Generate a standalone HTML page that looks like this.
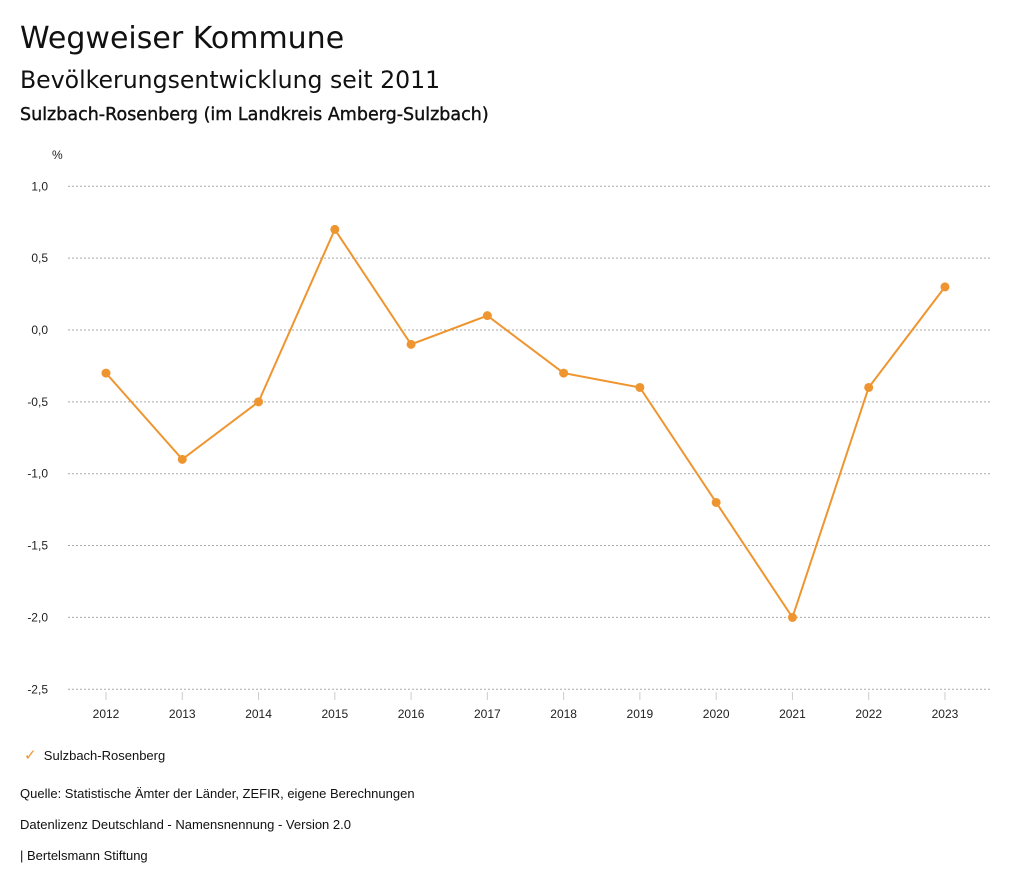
<!DOCTYPE html>
<html><head><meta charset="utf-8"><style>
body{margin:0;width:1024px;height:888px;background:#fff;font-family:"Liberation Sans",sans-serif;color:#111;position:relative;overflow:hidden}
.t{position:absolute;white-space:nowrap}
</style></head><body>
<div class="t" style="left:20px;top:21px;font-size:30px;font-family:'DejaVu Sans',sans-serif">Wegweiser Kommune</div>
<div class="t" style="left:20px;top:66px;font-size:23.6px;font-family:'DejaVu Sans',sans-serif">Bevölkerungsentwicklung seit 2011</div>
<div class="t" style="left:20px;top:105px;font-size:17.5px;font-family:'DejaVu Sans',sans-serif;-webkit-text-stroke:0.4px #111">Sulzbach-Rosenberg (im Landkreis Amberg-Sulzbach)</div>
<svg id="chart" width="1024" height="740" style="position:absolute;left:0;top:0"></svg>
<div class="t" style="left:24px;top:746px;font-size:13px"><span style="color:#ef9530;font-size:15px">✓</span>&nbsp;&nbsp;Sulzbach-Rosenberg</div>
<div class="t" style="left:20px;top:786px;font-size:13px">Quelle: Statistische Ämter der Länder, ZEFIR, eigene Berechnungen</div>
<div class="t" style="left:20px;top:817px;font-size:13px">Datenlizenz Deutschland - Namensnennung - Version 2.0</div>
<div class="t" style="left:20px;top:848px;font-size:13px">| Bertelsmann Stiftung</div>
<script>
const years=["2012","2013","2014","2015","2016","2017","2018","2019","2020","2021","2022","2023"];
const values=[-0.3,-0.9,-0.5,0.7,-0.1,0.1,-0.3,-0.4,-1.2,-2.0,-0.4,0.3];
const yTicks=[1.0,0.5,0.0,-0.5,-1.0,-1.5,-2.0,-2.5];
const svg=document.getElementById('chart');const NS='http://www.w3.org/2000/svg';
const y=v=>330-v*143.7;
const x=i=>106+i*76.27;
function mk(t,a){const e=document.createElementNS(NS,t);for(const k in a)e.setAttribute(k,a[k]);svg.appendChild(e);return e;}
let u=mk('text',{x:52,y:159,'font-size':12,fill:'#222'});u.textContent='%';


yTicks.forEach(v=>{
 const l=mk('line',{x1:68,x2:990,y1:y(v),y2:y(v),stroke:'#aaa','stroke-dasharray':'2,2'});
 
 
 const t=mk('text',{x:48,y:y(v)+4,'text-anchor':'end','font-size':12,fill:'#222'});
 t.textContent=v.toFixed(1).replace('.',',');
 
 
});
years.forEach((yr,i)=>{
 const l=mk('line',{x1:x(i),x2:x(i),y1:692,y2:700,stroke:'#ccc'});
 
 
 const t=mk('text',{x:x(i),y:718,'text-anchor':'middle','font-size':12,fill:'#222'});
 t.textContent=yr;
 
 
});
const p=mk('polyline',{points:values.map((v,i)=>x(i)+','+y(v)).join(' '),fill:'none',stroke:'#ef9530','stroke-width':2});


values.forEach((v,i)=>{
 const c=mk('circle',{cx:x(i),cy:y(v),r:4.5,fill:'#ef9530'});
 
 
});
</script>
</body></html>
